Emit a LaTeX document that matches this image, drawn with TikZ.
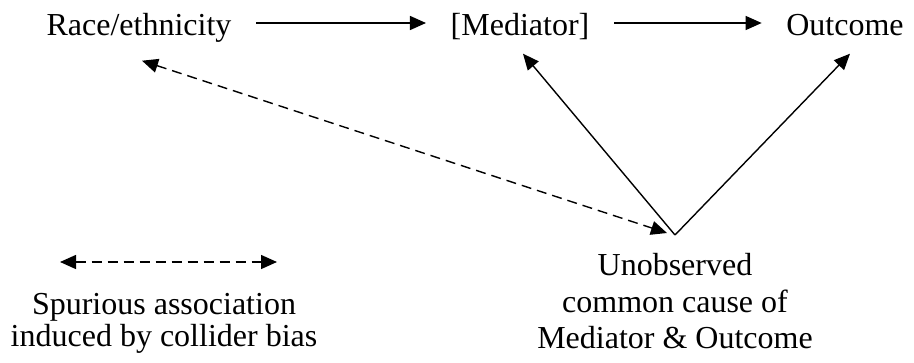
\documentclass[tikz,border=0pt]{standalone}
\usepackage{fontspec}
\setmainfont{Liberation Serif}
\usetikzlibrary{arrows.meta}

\begin{document}
\begin{tikzpicture}[x=1pt, y=-1pt, line width=1.4pt, >={Triangle[length=16pt,width=14pt]},
    main/.style = {font=\fontsize{32}{36.5}\selectfont, text height=24pt, text depth=0pt, inner xsep=24pt, inner ysep=18pt, anchor=base},
    note/.style = {font=\fontsize{32}{36.5}\selectfont, align=center, inner sep=0pt, anchor=north},
    spur/.style = {dash pattern=on 10pt off 6pt}]
      \useasboundingbox (0,0) rectangle (914,362);
      \node[main] (n_1) at (139,35) {Race/ethnicity};
      \node[main] (n_2) at (520,35) {[Mediator]};
      \node[main] (n_3) at (845,35) {Outcome};
      \node[note] (n_4) at (675,253) {Unobserved\\common cause of\\Mediator \& Outcome};
      \node[note, font=\fontsize{32}{32}\selectfont] (n_5) at (164,293) {Spurious association\\induced by collider bias};
      \coordinate (c_1) at ([yshift=18pt]n_4.north);
      \coordinate (c_2) at ([xshift=-8pt,yshift=2pt]c_1);
      \coordinate (l_1) at (60,262);
      \coordinate (l_2) at (277,262);

      \draw[->] (n_1) -- (n_2);
      \draw[->] (n_2) -- (n_3);
      \draw[->] (c_1) -- ([xshift=3pt]n_2.south);
      \draw[->] (c_1) -- ([xshift=5pt]n_3.south);
      \draw[<->, spur] ([xshift=3pt,yshift=-7pt]n_1.south) -- (c_2);
      \draw[<->, spur] (l_1) -- (l_2);
    \end{tikzpicture}
\end{document}
